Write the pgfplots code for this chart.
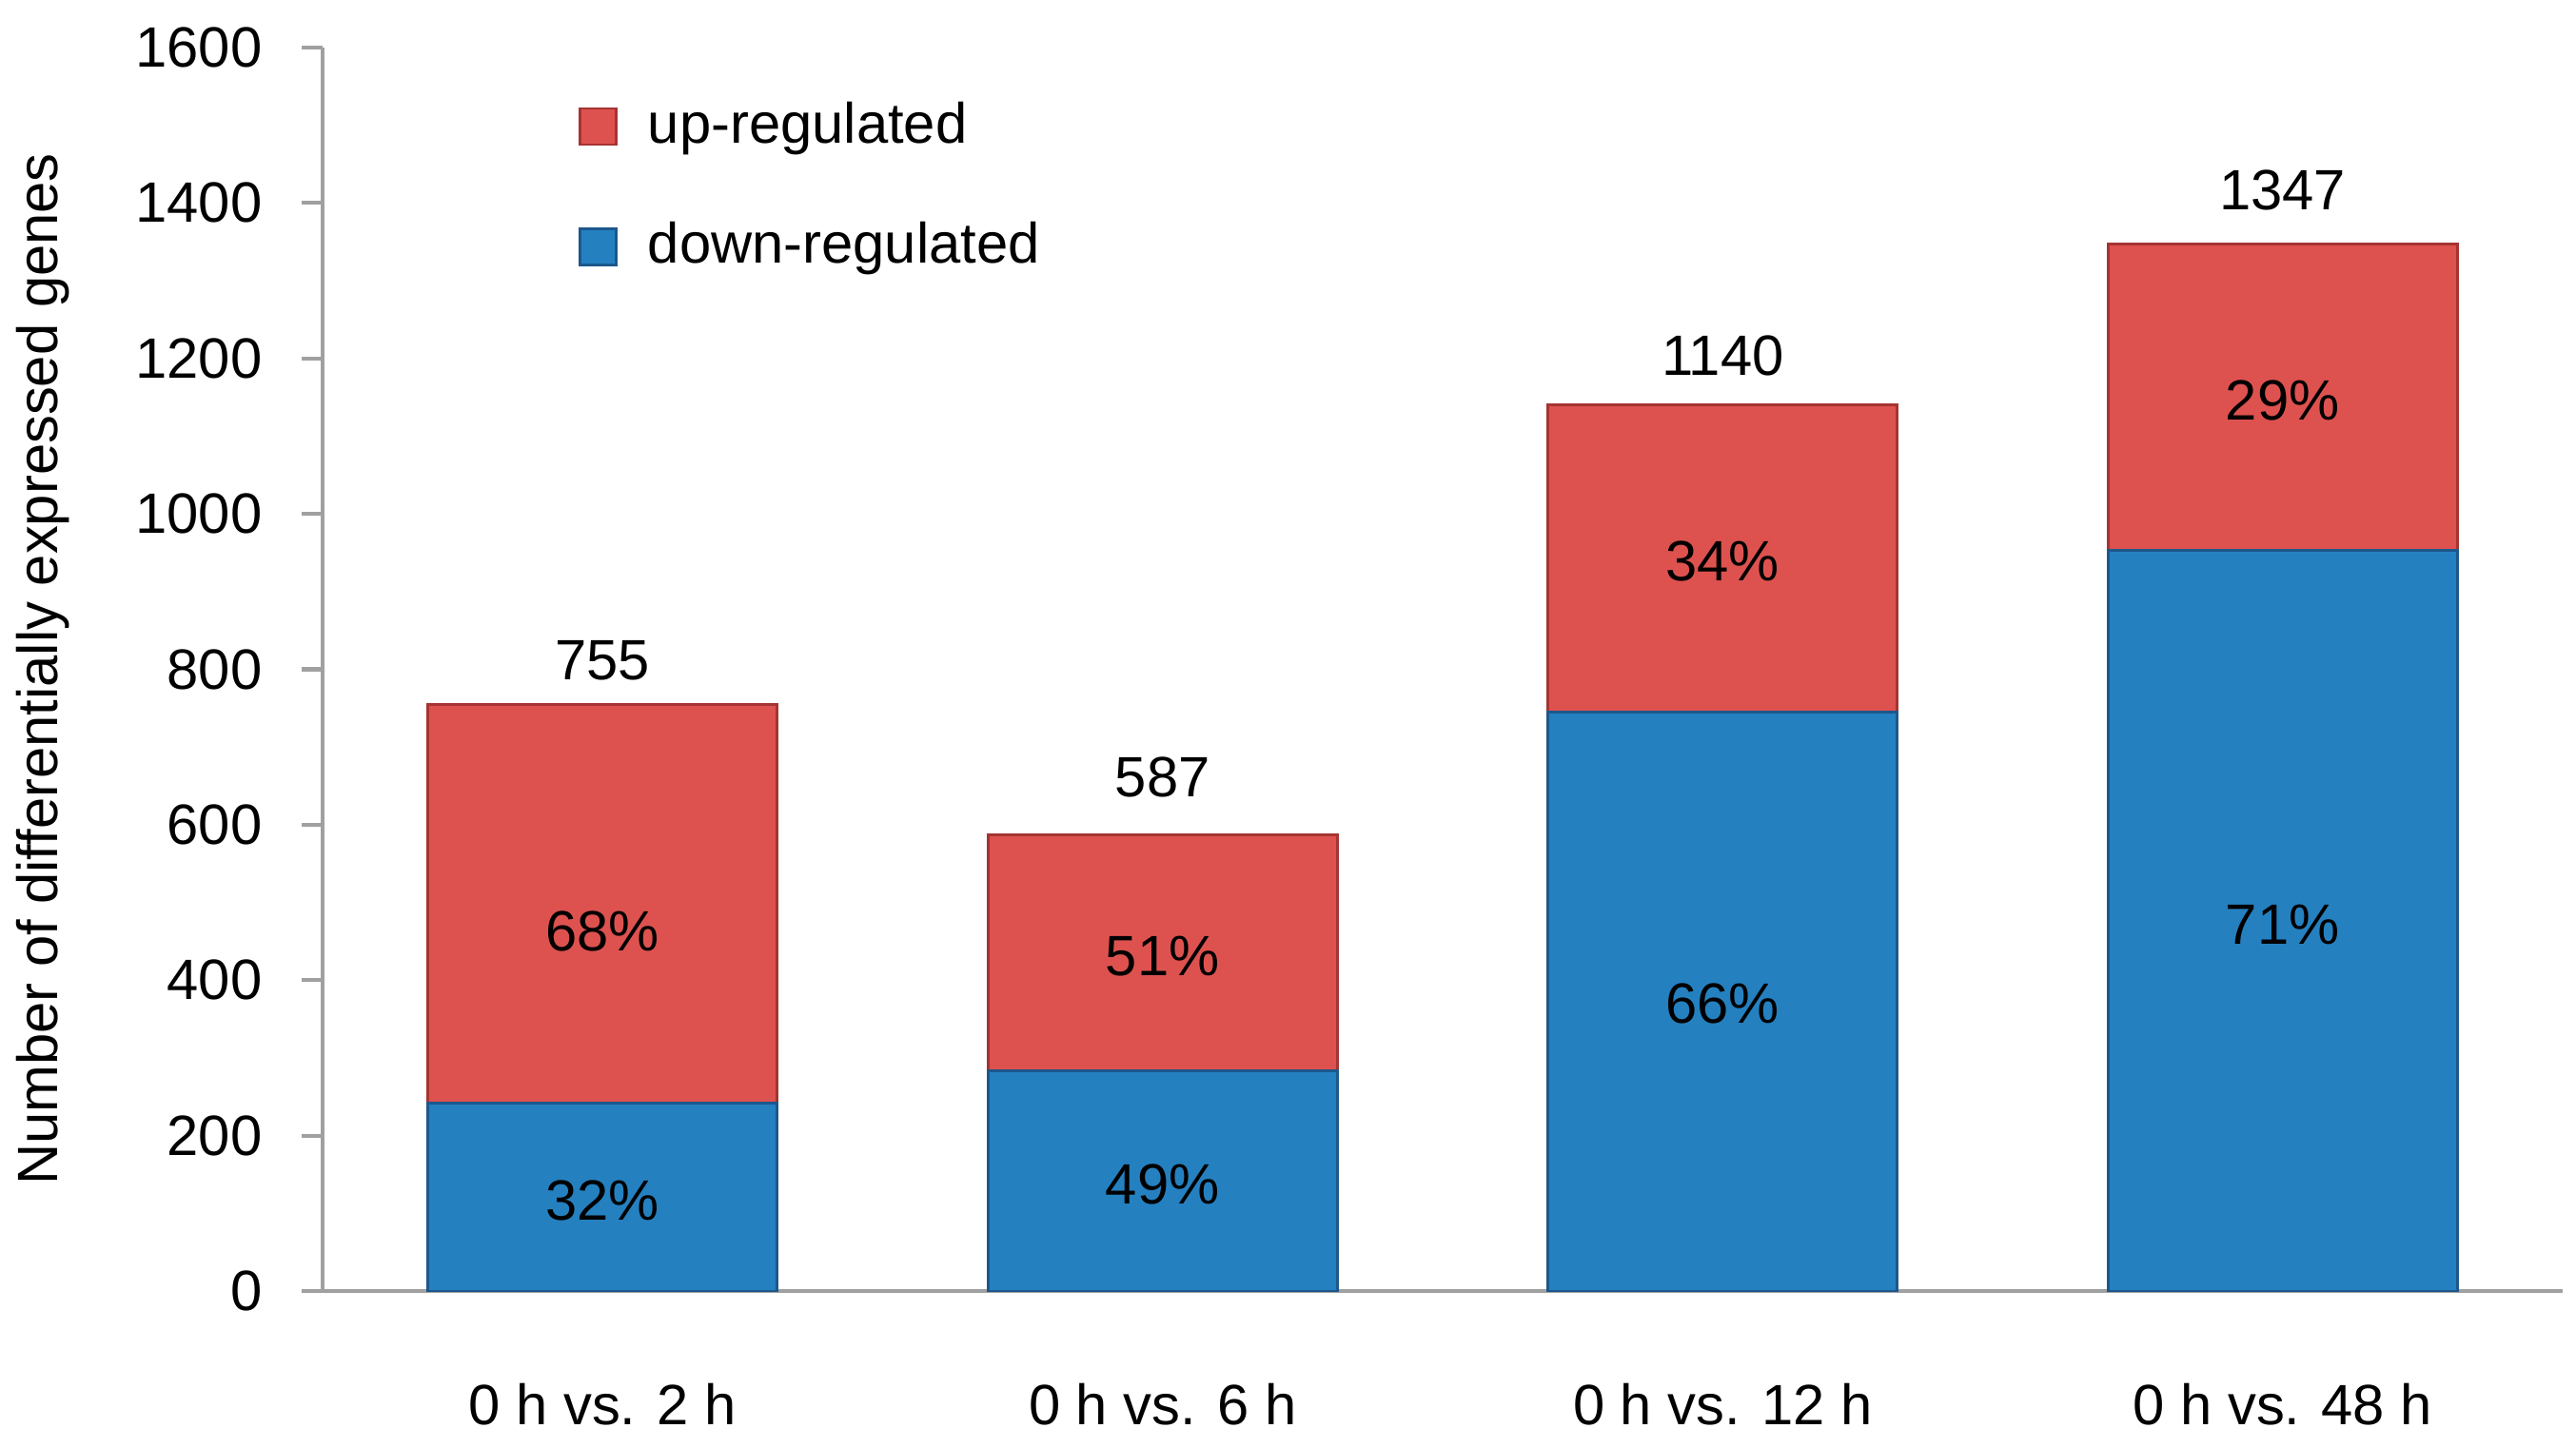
\documentclass[border=0pt]{standalone}
\usepackage{fontspec}
\setmainfont{Liberation Sans}
\usepackage{pgfplots}
\pgfplotsset{compat=1.18}
\definecolor{upfill}{RGB}{221,82,79}
\definecolor{updraw}{RGB}{165,52,50}
\definecolor{downfill}{RGB}{37,128,192}
\definecolor{downdraw}{RGB}{28,88,140}
\definecolor{axgray}{RGB}{160,160,160}
\begin{document}
\begin{tikzpicture}
\fontsize{17}{20}\selectfont
\begin{axis}[
  at={(0,0)}, anchor=south west,
  scale only axis,
  width=23.54cm, height=13.07cm,
  ybar stacked,
  bar width=0.624,
  xmin=-0.5, xmax=3.5,
  ymin=0, ymax=1600,
  ytick={0,200,...,1600},
  xtick={0,1,2,3},
  xticklabels={0 h vs. 2 h, 0 h vs. 6 h, 0 h vs. 12 h, 0 h vs. 48 h},
  axis x line*=bottom, axis y line*=left,
  axis line style={axgray, line width=1.2pt},
  tick align=outside,
  major tick length=0.22cm,
  ytick style={axgray, line width=1.2pt},
  xtick style={draw=none},
  extra x ticks={-0.5,0.5,1.5,2.5,3.5},
  extra x tick labels={},
  extra x tick style={xtick style={axgray, line width=1.2pt}, major tick length=0.22cm},
  /pgf/number format/assume math mode=true,
  /pgf/number format/1000 sep={},
  tick label style={font=\fontsize{17}{20}\selectfont, black},
  yticklabel style={xshift=-0.21cm},
  xticklabel style={yshift=-0.55cm},
  ylabel={Number of differentially expressed genes},
  ylabel style={font=\fontsize{17}{20}\selectfont, at={(ticklabel cs:0.5)}, yshift=0.29cm},
  label style={font=\fontsize{17}{20}\selectfont},
  reverse legend,
  legend style={at={(0.114,0.957)}, anchor=north west, draw=none, fill=none,
    font=\fontsize{17}{20}\selectfont, row sep=0.74cm, inner sep=0pt,
    nodes={inner sep=0pt, anchor=west},
    /tikz/every odd column/.append style={column sep=0.32cm}},
  legend image code/.code={\draw[#1] (0cm,-0.19cm) rectangle (0.38cm,0.19cm);},
  legend cell align=left,
  clip=false,
]
\addplot[fill=downfill, draw=downdraw, line width=0.8pt] coordinates {(0,242) (1,283) (2,745) (3,953)};
\addlegendentry{down-regulated}
\addplot[fill=upfill, draw=updraw, line width=0.8pt] coordinates {(0,513) (1,304) (2,395) (3,394)};
\addlegendentry{up-regulated}
% totals
\coordinate (t0) at (axis cs:0,755);
\coordinate (t1) at (axis cs:1,587);
\coordinate (t2) at (axis cs:2,1140);
\coordinate (t3) at (axis cs:3,1347);
% percentages
\coordinate (u0) at (axis cs:0,463);
\coordinate (d0) at (axis cs:0,116);
\coordinate (u1) at (axis cs:1,431);
\coordinate (d1) at (axis cs:1,137);
\coordinate (u2) at (axis cs:2,939);
\coordinate (d2) at (axis cs:2,370);
\coordinate (u3) at (axis cs:3,1146);
\coordinate (d3) at (axis cs:3,471);
\end{axis}
\node at ([yshift=0.46cm]t0) {755};
\node at ([yshift=0.61cm]t1) {587};
\node at ([yshift=0.52cm]t2) {1140};
\node at ([yshift=0.57cm]t3) {1347};
\node at (u0) {68\%};
\node at (d0) {32\%};
\node at (u1) {51\%};
\node at (d1) {49\%};
\node at (u2) {34\%};
\node at (d2) {66\%};
\node at (u3) {29\%};
\node at (d3) {71\%};
\pgfresetboundingbox
\path[use as bounding box] (-3.39cm,-1.65cm) rectangle (23.68cm,13.57cm);
\end{tikzpicture}
\end{document}
